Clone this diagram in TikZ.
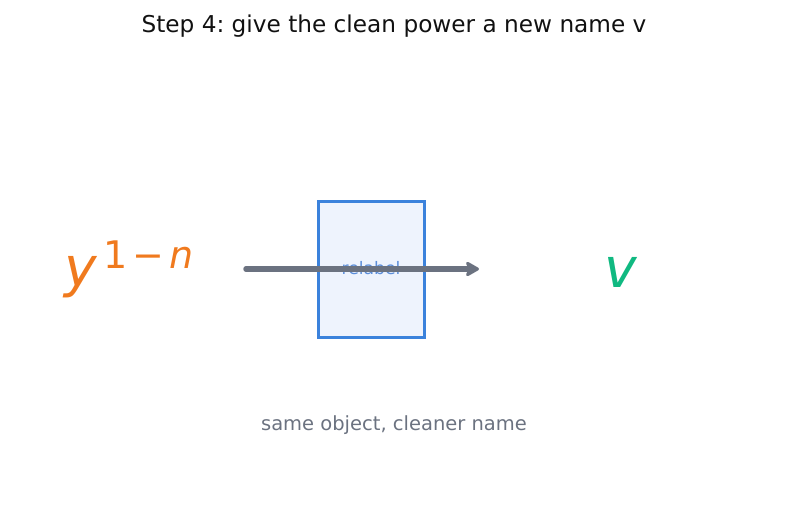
\documentclass[tikz,border=0pt]{standalone}
\usepackage{fontspec}
\setmainfont{DejaVu Sans}
\usetikzlibrary{arrows.meta}
\definecolor{titlec}{HTML}{111111}
\definecolor{orangec}{HTML}{F07A1E}
\definecolor{greenc}{HTML}{10B981}
\definecolor{boxedge}{HTML}{3B82DC}
\definecolor{boxfill}{HTML}{EEF3FD}
\definecolor{boxtext}{HTML}{5B8DD9}
\definecolor{arrowc}{HTML}{6B7280}
\definecolor{capc}{HTML}{6B7280}
\tikzset{
  titletext/.style={font=\frenchspacing\fontsize{23.2}{27}\selectfont, text=titlec, inner sep=0pt},
  bigsym/.style={font=\fontsize{55}{60}\selectfont\itshape, inner sep=0pt},
  relabelbox/.style={draw=boxedge, fill=boxfill, line width=3pt, minimum width=106pt, minimum height=136pt, inner sep=0pt},
  boxlabel/.style={font=\fontsize{17.2}{20}\selectfont, text=boxtext, inner sep=0pt},
  flow/.style={draw=arrowc, line width=5.5pt, line cap=round, -{Stealth[length=16pt, width=18pt, inset=4pt, round]}},
  captext/.style={font=\frenchspacing\fontsize{19.5}{23}\selectfont, text=capc, inner sep=0pt}
}
\begin{document}
\begin{tikzpicture}[x=1pt, y=-1pt]
\useasboundingbox (0,0) rectangle (787,510);
\node[titletext] (title) at (394,26) {Step 4: give the clean power a new name v};
\node[relabelbox] (box) at (371,270) {};
\node[boxlabel] (lbl) at (371,268.5) {relabel};
\coordinate (start) at (246,269);
\coordinate (end) at (479,269);
\draw[flow] (start) -- (end);
\node[bigsym, text=orangec, anchor=base west] (y) at (64,287) {y\hspace{7pt}\raisebox{18pt}{\fontsize{38}{40}\selectfont\upshape 1\hspace{5pt}−\hspace{5pt}\itshape n}};
\node[bigsym, text=greenc, anchor=base] (v) at (621,288) {v};
\node[captext] (cap) at (394,425) {same object, cleaner name};
\end{tikzpicture}
\end{document}
